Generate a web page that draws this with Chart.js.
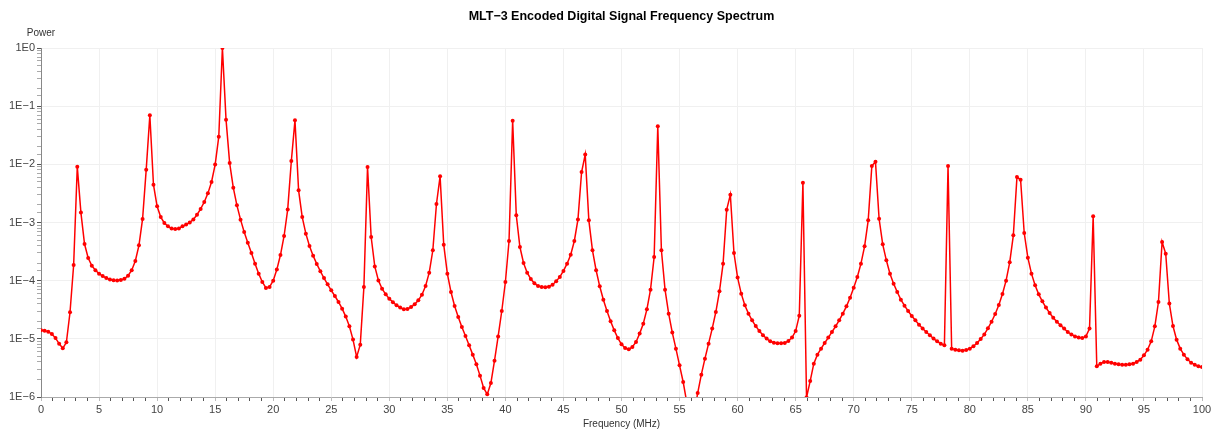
<!DOCTYPE html>
<html>
<head>
<meta charset="utf-8">
<script src="https://cdn.jsdelivr.net/npm/chart.js@4/dist/chart.umd.min.js"></script>
<style>
  html, body { margin: 0; padding: 0; background: #ffffff; }
  #wrap { width: 1211px; height: 431px; }
</style>
</head>
<body>
<div id="wrap"><canvas id="c" width="1211" height="431"></canvas></div>
<script>
// ---- Data ----
const chartTitle = "MLT\u22123 Encoded Digital Signal Frequency Spectrum";
const xAxisTitle = "Frequency (MHz)";
const yAxisTitle = "Power";
const freqStartMHz = 0;
const freqStepMHz = 0.3125;   // spacing of the spectrum samples
const xTickLabels = [0, 5, 10, 15, 20, 25, 30, 35, 40, 45, 50, 55, 60, 65, 70, 75, 80, 85, 90, 95, 100];
const yDecades = [1e-6, 1e-5, 1e-4, 1e-3, 1e-2, 1e-1, 1e0];

// power spectrum samples, one per frequency bin (0 .. 100 MHz)
const power = [
  1.4e-5, 1.38e-5, 1.33e-5, 1.21e-5, 1.03e-5, 8.26e-6, 6.87e-6, 8.71e-6, 2.86e-5, 1.86e-4,
  9.12e-3,
  1.48e-3, 4.27e-4, 2.45e-4, 1.81e-4, 1.51e-4, 1.32e-4, 1.2e-4, 1.11e-4, 1.05e-4, 1.02e-4,
  1.01e-4, 1.03e-4, 1.08e-4, 1.22e-4, 1.51e-4, 2.18e-4, 4.05e-4, 1.15e-3, 8.1e-3,
  6.96e-2,
  4.47e-3, 1.9e-3, 1.24e-3, 9.8e-4, 8.6e-4, 7.9e-4, 7.7e-4, 7.9e-4, 8.6e-4, 9.2e-4,
  1.0e-3, 1.13e-3, 1.36e-3, 1.71e-3, 2.25e-3, 3.17e-3, 4.97e-3, 9.9e-3, 2.99e-2,
  1.0,
  5.86e-2, 1.05e-2, 3.97e-3, 1.97e-3, 1.12e-3, 6.87e-4, 4.5e-4, 2.99e-4, 1.96e-4, 1.32e-4,
  9.5e-5, 7.5e-5, 7.8e-5, 1.0e-4, 1.55e-4, 2.76e-4, 5.86e-4, 1.68e-3, 1.14e-2,
  5.71e-2,
  3.57e-3, 1.24e-3, 6.43e-4, 3.94e-4, 2.69e-4, 1.94e-4, 1.45e-4, 1.11e-4, 8.65e-5, 6.82e-5,
  5.45e-5, 4.3e-5, 3.3e-5, 2.41e-5, 1.64e-5, 9.7e-6, 4.87e-6, 7.94e-6, 7.78e-5,
  9.0e-3,
  5.63e-4, 1.76e-4, 1.01e-4, 7.28e-5, 5.82e-5, 4.91e-5, 4.25e-5, 3.77e-5, 3.44e-5, 3.22e-5,
  3.26e-5, 3.52e-5, 3.92e-5, 4.59e-5, 5.74e-5, 8.1e-5, 1.37e-4, 3.33e-4, 2.08e-3,
  6.22e-3,
  4.16e-4, 1.32e-4, 6.38e-5, 3.67e-5, 2.37e-5, 1.6e-5, 1.12e-5, 7.73e-6, 5.35e-6, 3.65e-6,
  2.33e-6, 1.43e-6, 1.11e-6, 1.74e-6, 4.22e-6, 1.1e-5, 3.01e-5, 9.48e-5, 4.81e-4,
  5.6e-2,
  1.33e-3, 3.79e-4, 2.01e-4, 1.37e-4, 1.07e-4, 9.0e-5, 8.1e-5, 7.78e-5, 7.67e-5, 7.88e-5,
  8.53e-5, 9.74e-5, 1.16e-4, 1.47e-4, 1.96e-4, 2.8e-4, 4.81e-4, 1.13e-3, 7.38e-3,
  1.47e-2,
  1.09e-3, 3.33e-4, 1.51e-4, 8.0e-5, 4.71e-5, 3.01e-5, 2.0e-5, 1.4e-5, 1.03e-5, 8.04e-6,
  6.95e-6, 6.59e-6, 7.24e-6, 8.83e-6, 1.23e-5, 1.82e-5, 3.21e-5, 7.0e-5, 2.55e-4,
  4.5e-2,
  3.33e-4, 7.0e-5, 2.71e-5, 1.28e-5, 6.78e-6, 3.5e-6, 1.81e-6, 8e-7, 3e-7, 5e-7,
  1.17e-6, 2.42e-6, 4.56e-6, 8.26e-6, 1.5e-5, 2.89e-5, 6.56e-5, 1.96e-4, 1.66e-3,
  3.01e-3,
  2.99e-4, 1.13e-4, 5.98e-5, 3.77e-5, 2.71e-5, 2.08e-5, 1.66e-5, 1.36e-5, 1.15e-5, 1.01e-5,
  9.06e-6, 8.59e-6, 8.37e-6, 8.37e-6, 8.48e-6, 9.18e-6, 1.05e-5, 1.36e-5, 2.5e-5,
  4.84e-3,
  9.8e-7,
  1.88e-6, 3.74e-6, 5.35e-6, 6.78e-6, 8.48e-6, 1.05e-5, 1.31e-5, 1.64e-5, 2.08e-5, 2.71e-5,
  3.62e-5, 5.1e-5, 7.59e-5, 1.16e-4, 1.96e-4, 3.89e-4, 1.09e-3,
  9.36e-3, 1.11e-2,
  1.16e-3, 4.21e-4, 2.24e-4, 1.32e-4, 8.88e-5, 6.38e-5, 4.71e-5, 3.72e-5, 3.01e-5, 2.47e-5,
  2.08e-5, 1.75e-5, 1.5e-5, 1.31e-5, 1.15e-5, 1.01e-5, 9.06e-6, 8.26e-6, 7.73e-6,
  9.36e-3,
  6.78e-6, 6.52e-6, 6.34e-6, 6.26e-6, 6.43e-6, 6.78e-6, 7.43e-6, 8.48e-6, 9.93e-6, 1.19e-5,
  1.52e-5, 1.97e-5, 2.67e-5, 3.82e-5, 5.9e-5, 1.0e-4, 2.07e-4, 6.01e-4,
  6.05e-3, 5.45e-3,
  6.6e-4, 2.48e-4, 1.32e-4, 8.31e-5, 5.82e-5, 4.41e-5, 3.44e-5, 2.78e-5, 2.31e-5, 1.97e-5,
  1.71e-5, 1.5e-5, 1.31e-5, 1.19e-5, 1.1e-5, 1.05e-5, 1.03e-5, 1.1e-5, 1.5e-5,
  1.28e-3,
  3.37e-6, 3.74e-6, 4.0e-6, 4.0e-6, 3.89e-6, 3.74e-6, 3.65e-6, 3.6e-6, 3.6e-6, 3.65e-6,
  3.74e-6, 4.0e-6, 4.38e-6, 5.2e-6, 6.52e-6, 9.06e-6, 1.64e-5, 4.3e-5,
  4.62e-4, 2.91e-4,
  4.03e-5, 1.66e-5, 9.68e-6, 6.78e-6, 5.35e-6, 4.44e-6, 3.89e-6, 3.6e-6, 3.37e-6, 3.28e-6
];

// ---- Build chart ----
const points = power.map((p, i) => ({ x: freqStartMHz + i * freqStepMHz, y: p }));
const FONT = "'Liberation Sans', Arial, Helvetica, sans-serif";

function isDecade(v) {
  const e = Math.log10(v);
  return Math.abs(e - Math.round(e)) < 1e-6;
}
function decadeLabel(v) {
  const e = Math.round(Math.log10(v));
  return "1E" + (e < 0 ? "\u2212" + (-e) : String(e));
}

const textPlugin = {
  id: 'texts',
  afterDraw(chart) {
    const { ctx, chartArea } = chart;
    ctx.save();
    ctx.fillStyle = '#000';
    ctx.font = "bold 12.5px " + FONT;
    ctx.textAlign = 'center';
    ctx.textBaseline = 'middle';
    ctx.fillText(chartTitle, (chartArea.left + chartArea.right) / 2, 17);
    ctx.fillStyle = '#333';
    ctx.font = "10px " + FONT;
    ctx.fillText(yAxisTitle, 41, 33);
    ctx.font = "10px " + FONT;
    ctx.fillText(xAxisTitle, (chartArea.left + chartArea.right) / 2, 424);
    ctx.restore();
  }
};

new Chart(document.getElementById('c'), {
  type: 'line',
  data: {
    datasets: [{
      data: points,
      borderColor: '#ff0000',
      backgroundColor: '#ff0000',
      borderWidth: 1.5,
      pointRadius: 2,
      pointBorderWidth: 0,
      pointBackgroundColor: '#ff0000',
      tension: 0,
      fill: false
    }]
  },
  options: {
    responsive: false,
    animation: false,
    devicePixelRatio: 1,
    layout: { padding: { top: 48, right: 9, left: 0, bottom: 0 } },
    plugins: { legend: { display: false }, title: { display: false }, tooltip: { enabled: false } },
    scales: {
      x: {
        type: 'linear',
        min: 0, max: 100,
        afterFit(scale) { scale.height = 34; scale.paddingRight = 0; scale.paddingLeft = 0; },
        border: { display: true, color: '#aaaaaa', width: 1 },
        grid: {
          color: (c) => (xTickLabels.includes(c.tick.value) && c.tick.value !== 0 ? '#f0f0f0' : 'rgba(0,0,0,0)'),
          tickColor: (c) => (xTickLabels.includes(c.tick.value) ? '#bbbbbb' : '#555555'),
          tickLength: 4,
          drawTicks: true
        },
        ticks: {
          stepSize: 1,
          autoSkip: false,
          maxTicksLimit: 200,
          maxRotation: 0,
          padding: 2,
          color: '#444',
          font: { family: FONT, size: 11 },
          callback: (v) => (xTickLabels.includes(v) ? String(v) : '')
        }
      },
      y: {
        type: 'logarithmic',
        min: 1e-6, max: 1,
        afterFit(scale) { scale.width = 41; },
        border: { display: true, color: '#888888', width: 1 },
        grid: {
          color: (c) => (isDecade(c.tick.value) && c.tick.value > 1e-6 ? '#f0f0f0' : 'rgba(0,0,0,0)'),
          tickColor: (c) => (isDecade(c.tick.value) ? '#555555' : '#aaaaaa'),
          tickLength: 4,
          drawTicks: true
        },
        ticks: {
          autoSkip: false,
          padding: 2,
          color: '#444',
          font: { family: FONT, size: 11 },
          callback: (v) => (isDecade(v) ? decadeLabel(v) : '')
        }
      }
    }
  },
  plugins: [textPlugin]
});
</script>
</body>
</html>
